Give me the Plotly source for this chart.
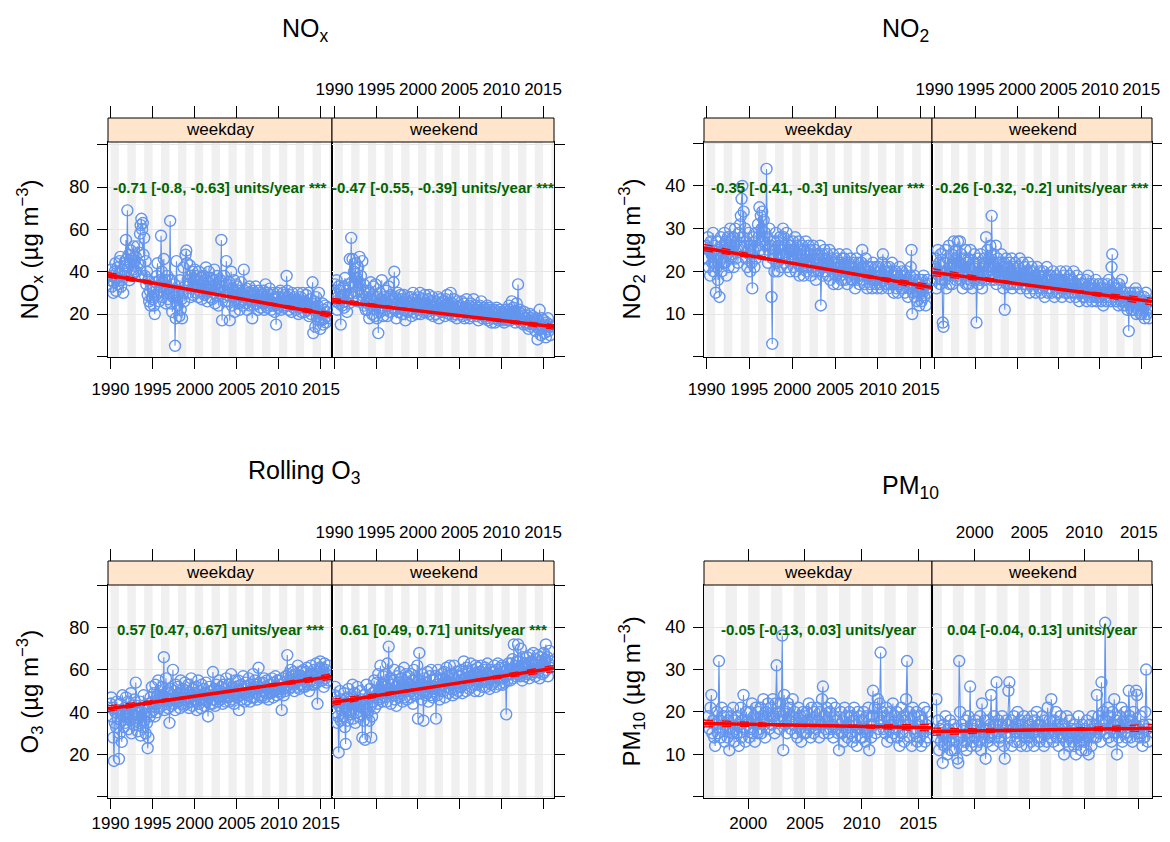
import numpy as np
import plotly.graph_objects as go

# monthly means (ug/m3), one row per year; NOx/NO2/O3 Jan 1990 - Dec 2015
nox_weekday = [
    36, 41, 33, 38, 30, 35, 40, 44, 31, 37, 42, 34,
    39, 45, 47, 33, 36, 41, 30, 38, 44, 43, 55, 46,
    69, 42, 48, 36, 44, 50, 38, 46, 41, 52, 45, 40,
    47, 40, 52, 44, 38, 49, 58, 62, 65, 60, 63, 48,
    56, 38, 45, 34, 40, 29, 36, 26, 31, 24, 33, 28,
    27, 32, 24, 20, 35, 29, 38, 44, 30, 26, 36, 33,
    57, 40, 28, 35, 46, 30, 36, 25, 32, 38, 27, 30,
    36, 64, 25, 36, 21, 28, 30, 34, 5, 18, 45, 29,
    24, 31, 19, 36, 22, 27, 18, 30, 42, 26, 33, 48,
    50, 44, 36, 30, 34, 43, 28, 38, 32, 40, 29, 36,
    41, 33, 38, 30, 36, 28, 40, 34, 31, 37, 27, 35,
    32, 38, 29, 36, 42, 30, 26, 35, 40, 31, 28, 37,
    33, 27, 36, 30, 41, 25, 34, 29, 38, 32, 24, 35,
    30, 36, 55, 17, 33, 28, 38, 31, 26, 45, 34, 29,
    26, 35, 17, 30, 40, 24, 32, 28, 36, 21, 30, 34,
    27, 33, 25, 31, 22, 29, 35, 26, 30, 24, 41, 31,
    28, 25, 32, 22, 30, 27, 33, 24, 29, 26, 18, 31,
    24, 30, 27, 33, 25, 29, 22, 31, 26, 28, 23, 30,
    29, 25, 31, 22, 28, 34, 26, 23, 30, 27, 24, 32,
    26, 22, 29, 24, 30, 27, 21, 28, 15, 25, 30, 23,
    28, 24, 31, 22, 27, 25, 30, 23, 26, 29, 24, 38,
    31, 26, 22, 29, 24, 27, 21, 30, 25, 23, 28, 26,
    22, 27, 24, 30, 20, 26, 23, 28, 21, 25, 30, 24,
    26, 21, 25, 29, 22, 24, 30, 19, 23, 27, 20, 25,
    35, 11, 22, 26, 14, 28, 19, 24, 17, 30, 21, 13,
    20, 17, 25, 15, 22, 18, 24, 16, 21, 19, 23, 18,
]
nox_weekend = [
    30, 34, 26, 36, 22, 28, 33, 25, 31, 15, 27, 24,
    29, 33, 23, 37, 26, 31, 21, 28, 34, 25, 46, 30,
    56, 35, 46, 28, 40, 33, 44, 30, 37, 26, 42, 35,
    47, 32, 38, 29, 45, 27, 34, 24, 30, 22, 28, 25,
    22, 31, 18, 27, 35, 24, 20, 29, 33, 26, 19, 34,
    24, 18, 28, 11, 25, 30, 21, 27, 36, 23, 19, 26,
    28, 22, 31, 25, 19, 27, 33, 24, 21, 29, 26, 23,
    27, 35, 40, 22, 28, 18, 25, 30, 21, 26, 24, 29,
    23, 27, 20, 25, 29, 22, 17, 26, 24, 21, 28, 25,
    26, 22, 28, 19, 24, 30, 21, 27, 23, 25, 20, 24,
    22, 28, 24, 30, 20, 26, 23, 27, 21, 25, 29, 22,
    25, 21, 27, 23, 29, 20, 24, 26, 22, 28, 19, 24,
    23, 26, 20, 25, 22, 28, 18, 24, 27, 21, 25, 22,
    26, 21, 24, 19, 27, 23, 29, 22, 25, 20, 24, 30,
    21, 25, 19, 23, 27, 20, 24, 22, 18, 26, 23, 21,
    24, 20, 23, 26, 19, 22, 25, 18, 23, 21, 27, 22,
    20, 24, 18, 22, 25, 19, 23, 21, 27, 20, 22, 24,
    22, 19, 23, 17, 21, 24, 20, 26, 22, 18, 21, 23,
    19, 22, 18, 21, 24, 17, 20, 23, 19, 22, 16, 21,
    21, 18, 22, 16, 20, 23, 18, 21, 17, 19, 22, 18,
    18, 21, 17, 20, 16, 19, 22, 18, 21, 17, 20, 24,
    22, 17, 20, 26, 19, 23, 18, 21, 16, 19, 25, 20,
    34, 21, 18, 22, 16, 20, 17, 19, 15, 21, 18, 16,
    18, 15, 19, 13, 17, 20, 14, 18, 16, 19, 15, 17,
    16, 12, 18, 14, 8, 17, 13, 22, 15, 10, 18, 13,
    14, 17, 11, 15, 9, 16, 13, 18, 12, 15, 10, 14,
]
no2_weekday = [
    26, 23, 28, 21, 25, 19, 27, 24, 22, 29, 20, 26,
    24, 15, 27, 21, 18, 25, 14, 23, 28, 20, 26, 22,
    25, 29, 22, 27, 19, 24, 28, 21, 26, 30, 23, 27,
    24, 28, 21, 26, 30, 23, 27, 25, 22, 29, 26, 31,
    33, 37, 40, 28, 34, 26, 30, 23, 27, 21, 25, 29,
    24, 20, 26, 22, 16, 25, 28, 21, 27, 23, 29, 26,
    31, 28, 35, 25, 33, 30, 34, 27, 32, 24, 29, 26,
    44, 28, 22, 25, 30, 24, 26, 14, 3, 23, 27, 20,
    25, 29, 22, 27, 20, 26, 24, 28, 21, 25, 23, 30,
    28, 22, 26, 24, 29, 21, 27, 23, 25, 20, 26, 24,
    23, 27, 21, 25, 28, 20, 24, 26, 22, 27, 19, 24,
    25, 21, 26, 23, 19, 25, 22, 27, 20, 24, 21, 26,
    22, 25, 19, 24, 21, 26, 20, 23, 25, 18, 22, 24,
    24, 20, 23, 26, 12, 21, 24, 19, 22, 25, 20, 23,
    21, 24, 19, 22, 25, 18, 21, 23, 20, 24, 17, 22,
    22, 19, 23, 20, 17, 22, 24, 19, 21, 18, 23, 20,
    20, 23, 18, 21, 24, 17, 20, 22, 19, 21, 23, 18,
    21, 18, 22, 19, 16, 21, 23, 18, 20, 22, 17, 20,
    19, 22, 25, 18, 21, 17, 20, 23, 19, 16, 21, 19,
    20, 17, 21, 19, 16, 22, 18, 20, 17, 21, 19, 16,
    18, 21, 17, 20, 19, 16, 22, 24, 18, 20, 17, 21,
    19, 17, 20, 16, 21, 18, 17, 20, 22, 18, 15, 19,
    17, 20, 16, 19, 15, 18, 21, 17, 19, 16, 20, 18,
    16, 19, 15, 18, 20, 17, 14, 18, 16, 19, 21, 25,
    10, 17, 15, 19, 14, 18, 16, 13, 17, 15, 12, 18,
    16, 13, 18, 15, 19, 14, 17, 12, 16, 18, 15, 17,
]
no2_weekend = [
    21, 18, 23, 16, 20, 25, 19, 22, 17, 24, 20, 18,
    8, 7, 22, 18, 25, 16, 20, 23, 19, 26, 17, 21,
    20, 24, 17, 22, 27, 19, 23, 18, 25, 21, 27, 19,
    22, 27, 18, 24, 20, 16, 23, 19, 21, 25, 17, 22,
    19, 23, 17, 21, 25, 18, 20, 16, 22, 19, 24, 18,
    21, 8, 19, 23, 17, 22, 18, 24, 20, 16, 21, 19,
    23, 18, 22, 28, 20, 25, 19, 23, 21, 26, 18, 33,
    22, 19, 24, 18, 21, 26, 17, 20, 23, 19, 22, 18,
    20, 24, 18, 21, 16, 22, 11, 19, 23, 17, 21, 19,
    18, 22, 17, 20, 23, 16, 19, 21, 17, 22, 18, 20,
    19, 17, 21, 18, 23, 16, 20, 18, 22, 17, 19, 21,
    17, 20, 16, 19, 22, 18, 15, 20, 17, 21, 18, 16,
    20, 17, 19, 15, 18, 21, 17, 19, 16, 20, 18, 15,
    18, 16, 20, 17, 14, 19, 17, 21, 15, 18, 16, 19,
    16, 19, 15, 18, 20, 17, 14, 18, 16, 19, 15, 17,
    18, 15, 17, 20, 16, 14, 18, 16, 19, 15, 17, 20,
    16, 18, 15, 17, 19, 14, 17, 15, 18, 16, 20, 15,
    17, 14, 16, 19, 15, 17, 13, 16, 18, 15, 17, 14,
    15, 17, 14, 16, 18, 13, 16, 19, 15, 17, 14, 16,
    16, 13, 15, 17, 14, 16, 18, 13, 15, 14, 17, 15,
    14, 16, 13, 15, 17, 12, 15, 14, 16, 13, 15, 17,
    15, 18, 14, 16, 13, 21, 24, 15, 17, 14, 16, 13,
    16, 13, 15, 12, 17, 14, 16, 13, 18, 15, 12, 14,
    13, 15, 12, 14, 11, 13, 6, 15, 12, 14, 11, 13,
    14, 11, 15, 12, 16, 10, 13, 15, 11, 14, 12, 10,
    12, 10, 13, 11, 14, 9, 12, 15, 10, 11, 13, 9,
]
o3_weekday = [
    44, 47, 38, 42, 28, 17, 35, 40, 33, 45, 37, 41,
    18, 30, 44, 36, 26, 48, 39, 33, 42, 35, 47, 40,
    38, 45, 32, 41, 36, 49, 30, 43, 37, 34, 46, 40,
    54, 37, 43, 31, 40, 35, 45, 29, 38, 42, 33, 48,
    36, 42, 30, 39, 35, 23, 28, 44, 38, 47, 40, 52,
    45, 41, 49, 38, 53, 44, 40, 48, 55, 42, 46, 50,
    48, 43, 52, 45, 66, 41, 47, 56, 44, 50, 42, 49,
    35, 46, 51, 43, 48, 60, 44, 50, 41, 53, 47, 45,
    52, 45, 49, 42, 55, 47, 44, 51, 43, 48, 54, 46,
    44, 50, 47, 53, 42, 49, 45, 56, 48, 43, 51, 46,
    49, 45, 52, 41, 48, 55, 44, 50, 46, 42, 53, 47,
    46, 51, 43, 49, 54, 45, 48, 38, 47, 52, 44, 50,
    48, 44, 59, 46, 51, 43, 49, 53, 45, 50, 47, 55,
    50, 46, 52, 48, 44, 53, 47, 51, 45, 56, 49, 47,
    47, 53, 45, 50, 58, 46, 52, 48, 44, 51, 55, 49,
    52, 47, 55, 41, 50, 48, 53, 46, 51, 57, 49, 45,
    49, 54, 46, 52, 48, 56, 50, 45, 53, 47, 51, 58,
    51, 47, 55, 49, 53, 46, 52, 61, 48, 54, 50, 47,
    48, 54, 50, 56, 47, 52, 49, 55, 51, 46, 53, 49,
    53, 49, 56, 51, 47, 54, 50, 57, 52, 48, 55, 51,
    50, 55, 49, 53, 41, 56, 51, 48, 54, 50, 57, 52,
    67, 53, 58, 51, 56, 60, 52, 57, 54, 59, 50, 55,
    54, 58, 52, 62, 55, 51, 57, 53, 59, 56, 52, 60,
    56, 52, 59, 54, 61, 53, 57, 50, 58, 55, 62, 53,
    58, 55, 60, 53, 57, 63, 54, 44, 59, 56, 61, 64,
    57, 61, 55, 59, 52, 63, 56, 60, 54, 58, 62, 55,
]
o3_weekend = [
    48, 52, 40, 45, 35, 38, 21, 43, 50, 36, 46, 41,
    44, 38, 49, 33, 25, 42, 47, 36, 51, 40, 45, 39,
    47, 41, 53, 37, 44, 49, 35, 46, 40, 52, 43, 38,
    45, 50, 39, 46, 28, 42, 36, 48, 27, 41, 53, 44,
    40, 47, 36, 51, 43, 28, 38, 49, 45, 55, 42, 50,
    48, 54, 44, 58, 46, 51, 62, 47, 53, 45, 57, 49,
    52, 47, 58, 45, 63, 51, 71, 49, 56, 44, 53, 50,
    55, 48, 60, 46, 52, 43, 57, 50, 54, 47, 59, 51,
    49, 56, 45, 53, 61, 47, 52, 58, 46, 54, 50, 57,
    53, 47, 58, 50, 55, 44, 60, 51, 48, 56, 52, 62,
    37, 55, 68, 49, 53, 46, 58, 50, 36, 56, 52, 48,
    54, 49, 59, 45, 52, 57, 48, 60, 51, 47, 55, 50,
    51, 57, 37, 53, 48, 60, 52, 46, 56, 50, 58, 53,
    56, 50, 59, 47, 55, 61, 52, 57, 49, 54, 62, 51,
    53, 58, 48, 56, 62, 51, 55, 49, 59, 54, 50, 57,
    57, 52, 60, 55, 49, 58, 64, 53, 56, 50, 61, 55,
    54, 59, 51, 57, 63, 52, 56, 60, 53, 58, 50, 62,
    58, 53, 61, 56, 50, 59, 55, 62, 57, 52, 60, 56,
    55, 61, 52, 58, 63, 54, 57, 51, 60, 56, 53, 59,
    59, 54, 62, 57, 52, 60, 56, 63, 58, 53, 61, 57,
    56, 62, 53, 59, 54, 61, 57, 39, 60, 55, 63, 58,
    60, 55, 63, 58, 65, 56, 72, 59, 62, 57, 64, 60,
    72, 58, 64, 57, 70, 61, 55, 66, 59, 63, 57, 62,
    61, 66, 58, 63, 56, 67, 60, 64, 58, 62, 68, 59,
    63, 57, 65, 60, 67, 59, 62, 56, 66, 61, 64, 58,
    62, 68, 59, 65, 72, 60, 66, 57, 63, 69, 61, 64,
]
# PM10 Jul 1996 - Dec 2015
pm10_weekday = [
    19, 16, 21, 24, 15, 18,
    14, 12, 17, 20, 15, 32, 18, 14, 21, 16, 19, 13,
    17, 20, 14, 18, 11, 16, 19, 15, 21, 13, 18, 16,
    15, 19, 12, 17, 21, 14, 18, 24, 16, 13, 20, 17,
    18, 14, 20, 16, 22, 15, 19, 13, 21, 17, 15, 20,
    16, 21, 15, 19, 23, 17, 14, 20, 18, 22, 16, 19,
    21, 17, 23, 19, 15, 22, 31, 18, 20, 16, 22, 19,
    38, 11, 24, 17, 20, 15, 22, 18, 21, 16, 19, 23,
    17, 20, 15, 18, 14, 21, 16, 19, 13, 18, 20, 15,
    19, 15, 20, 17, 22, 16, 14, 21, 18, 15, 20, 17,
    16, 21, 18, 14, 20, 17, 23, 26, 15, 19, 16, 21,
    18, 15, 20, 16, 22, 17, 14, 19, 21, 16, 18, 15,
    11, 17, 20, 15, 18, 13, 21, 16, 19, 14, 17, 20,
    15, 19, 13, 18, 21, 14, 17, 12, 20, 16, 19, 14,
    18, 14, 20, 16, 13, 19, 15, 21, 11, 17, 14, 19,
    25, 17, 21, 15, 19, 23, 16, 22, 34, 18, 20, 16,
    19, 15, 21, 13, 18, 16, 20, 14, 17, 22, 15, 19,
    16, 20, 14, 18, 12, 17, 21, 15, 19, 13, 18, 23,
    32, 17, 20, 14, 18, 12, 21, 16, 19, 15, 20, 13,
    17, 14, 19, 12, 18, 15, 21, 13, 17, 20, 14, 16,
]
pm10_weekend = [
    23, 14, 18, 11, 16, 13,
    15, 8, 17, 12, 19, 14, 10, 16, 13, 18, 11, 15,
    14, 17, 11, 16, 13, 9, 8, 32, 20, 14, 17, 12,
    16, 13, 18, 11, 15, 19, 14, 26, 12, 17, 13, 16,
    14, 18, 12, 17, 15, 13, 19, 11, 22, 16, 14, 18,
    9, 16, 13, 18, 14, 17, 24, 15, 12, 19, 14, 17,
    27, 15, 18, 13, 17, 14, 19, 16, 12, 9, 15, 18,
    17, 25, 27, 14, 18, 12, 16, 19, 13, 17, 15, 20,
    16, 13, 18, 12, 17, 15, 19, 14, 16, 12, 18, 15,
    14, 17, 13, 19, 15, 12, 18, 16, 20, 14, 17, 13,
    17, 14, 19, 15, 12, 18, 16, 13, 21, 15, 18, 14,
    23, 16, 13, 18, 15, 20, 14, 17, 12, 16, 19, 15,
    14, 17, 10, 16, 13, 19, 15, 12, 18, 14, 16, 13,
    15, 12, 17, 10, 16, 14, 19, 13, 15, 11, 17, 14,
    13, 16, 11, 18, 14, 10, 17, 15, 12, 19, 14, 16,
    17, 14, 24, 16, 19, 15, 13, 27, 18, 20, 16, 41,
    18, 15, 21, 14, 19, 16, 13, 20, 17, 23, 15, 18,
    10, 17, 14, 19, 16, 21, 13, 18, 15, 20, 14, 17,
    18, 25, 19, 14, 18, 13, 20, 17, 16, 25, 24, 15,
    16, 14, 19, 15, 12, 17, 14, 20, 30, 16, 13, 17,
]

# Theil-Sen trend: value at left / right panel edge
trend_left = [38.5, 26.3, 25.5, 19.8, 41.7, 44.6, 17.3, 15.4]
trend_right = [19.5, 14.0, 16.2, 12.9, 56.9, 60.8, 16.3, 16.2]
slope_lo = [-0.8, -0.55, -0.41, -0.32, 0.47, 0.49, -0.13, -0.04]
slope_hi = [-0.63, -0.39, -0.3, -0.2, 0.67, 0.71, 0.03, 0.13]
trend_text = [
    "-0.71 [-0.8, -0.63] units/year ***", "-0.47 [-0.55, -0.39] units/year ***",
    "-0.35 [-0.41, -0.3] units/year ***", "-0.26 [-0.32, -0.2] units/year ***",
    "0.57 [0.47, 0.67] units/year ***", "0.61 [0.49, 0.71] units/year ***",
    "-0.05 [-0.13, 0.03] units/year", "0.04 [-0.04, 0.13] units/year",
]
strip_labels = ["weekday", "weekend"]

# the page body adds an 8px margin all round; keep the figure inside it
OFF = 8
W, H = 1170 - 2 * OFF, 842 - 2 * OFF
FONT = "Liberation Sans, Arial, sans-serif"
BLUE = "#6495ED"


def fx(px):
    return (px - OFF) / W


def fy(py):
    return 1 - (py - OFF) / H


cols = [(108, 332, 554), (704, 932, 1152)]
rows = [(118, 142, 357), (561, 585, 798)]
label_standoff = [6, 0]
bottom_ticklen = [11, 10]

panels = [
    dict(row=0, col=0, title="NO<sub>x</sub>", tpos=(305, 30),
         ytitle="NO<sub>x</sub> (µg m<sup>−3</sup>)",
         series=(nox_weekday, nox_weekend), start=1990.0,
         xr=(1989.7, 2016.31), yr=(-0.3, 101.3), yticks=list(range(0, 101, 20)),
         xticks=list(range(1990, 2016, 5))),
    dict(row=0, col=1, title="NO<sub>2</sub>", tpos=(905, 30),
         ytitle="NO<sub>2</sub> (µg m<sup>−3</sup>)",
         series=(no2_weekday, no2_weekend), start=1990.0,
         xr=(1989.7, 2016.31), yr=(-0.07, 50.3), yticks=list(range(0, 51, 10)),
         xticks=list(range(1990, 2016, 5))),
    dict(row=1, col=0, title="Rolling O<sub>3</sub>", tpos=(304, 472),
         ytitle="O<sub>3</sub> (µg m<sup>−3</sup>)",
         series=(o3_weekday, o3_weekend), start=1990.0,
         xr=(1989.7, 2016.31), yr=(-0.5, 100.1), yticks=list(range(0, 101, 20)),
         xticks=list(range(1990, 2016, 5))),
    dict(row=1, col=1, title="PM<sub>10</sub>", tpos=(910, 487),
         ytitle="PM<sub>10</sub> (µg m<sup>−3</sup>)",
         series=(pm10_weekday, pm10_weekend), start=1996.5,
         xr=(1996.1, 2016.2), yr=(-0.25, 49.9), yticks=list(range(0, 51, 10)),
         xticks=list(range(2000, 2016, 5))),
]

fig = go.Figure()
layout = {}
shapes = []
annotations = []

for p_i, p in enumerate(panels):
    strip_top, plot_top, plot_bot = rows[p["row"]]
    c_left, c_mid, c_right = cols[p["col"]]
    edges = [(c_left, c_mid), (c_mid, c_right)]
    ylab = ["" if (v == p["yticks"][0] or v == p["yticks"][-1]) else str(v) for v in p["yticks"]]

    for s in range(2):
        k = p_i * 2 + s
        n = k + 1
        xid = "x" if n == 1 else f"x{n}"
        yid = "y" if n == 1 else f"y{n}"
        top_n = n + 8
        dom = [fx(edges[s][0]), fx(edges[s][1])]
        ydom = [fy(plot_bot), fy(plot_top)]
        x0r, x1r = p["xr"]

        vals = p["series"][s]
        t = p["start"] + np.arange(len(vals)) / 12.0

        fig.add_trace(go.Scatter(
            x=t, y=vals, mode="lines+markers", xaxis=xid, yaxis=yid,
            line=dict(color=BLUE, width=1.1),
            marker=dict(symbol="circle-open", size=11, color=BLUE, line=dict(width=1.4)),
            showlegend=False, hoverinfo="skip"))

        # trend line and confidence slopes
        yl, yrr = trend_left[k], trend_right[k]
        ym = (yl + yrr) / 2
        half = (x1r - x0r) / 2
        for sl in (slope_lo[k], slope_hi[k]):
            fig.add_trace(go.Scatter(
                x=[x0r, x1r], y=[ym - sl * half, ym + sl * half], mode="lines",
                xaxis=xid, yaxis=yid, line=dict(color="red", width=1.3, dash="dash"),
                showlegend=False, hoverinfo="skip"))
        fig.add_trace(go.Scatter(
            x=[x0r, x1r], y=[yl, yrr], mode="lines", xaxis=xid, yaxis=yid,
            line=dict(color="red", width=3.5), showlegend=False, hoverinfo="skip"))

        # dummy for the top axis
        fig.add_trace(go.Scatter(
            x=[x0r], y=[p["yr"][0]], mode="markers", xaxis=f"x{top_n}", yaxis=yid,
            marker=dict(opacity=0), showlegend=False, hoverinfo="skip"))

        layout[f"xaxis{n}" if n > 1 else "xaxis"] = dict(
            domain=dom, anchor=yid, range=list(p["xr"]), automargin=False,
            tickvals=p["xticks"], ticktext=[str(v) for v in p["xticks"]],
            showticklabels=(s == 0), ticks="outside", ticklen=bottom_ticklen[p["row"]],
            tickcolor="black",
            showline=True, mirror=True, linecolor="black", linewidth=1,
            showgrid=False, zeroline=False, ticklabelstandoff=label_standoff[p["row"]],
            ticklabeloverflow="allow",
            tickfont=dict(family=FONT, size=17, color="black"))
        layout[f"xaxis{top_n}"] = dict(
            domain=dom, overlaying=xid, side="top", anchor="free", position=fy(strip_top),
            range=list(p["xr"]), automargin=False,
            tickvals=p["xticks"], ticktext=[str(v) for v in p["xticks"]],
            showticklabels=(s == 1), ticks="outside", ticklen=12, tickcolor="black",
            showline=False, showgrid=False, zeroline=False, ticklabelstandoff=4,
            ticklabeloverflow="allow",
            tickfont=dict(family=FONT, size=17, color="black"))
        layout[f"yaxis{n}" if n > 1 else "yaxis"] = dict(
            domain=ydom, anchor=xid, range=list(p["yr"]), side="left" if s == 0 else "right",
            automargin=False,
            tickvals=p["yticks"], ticktext=ylab, showticklabels=(s == 0),
            ticks="outside", ticklen=10, tickcolor="black",
            showline=True, mirror=True, linecolor="black", linewidth=1,
            showgrid=True, gridcolor="#E6E6E6", gridwidth=1, zeroline=False,
            ticklabelstandoff=4, tickfont=dict(family=FONT, size=18, color="black"))

        # alternate-year shading
        for yr in range(int(np.floor(x0r)), int(np.ceil(x1r))):
            if yr % 2 == 0:
                shapes.append(dict(
                    type="rect", xref=xid, yref=f"{yid} domain",
                    x0=max(yr, x0r), x1=min(yr + 1, x1r), y0=0, y1=1,
                    fillcolor="#F0F0F0", line=dict(width=0), layer="below"))

        # strip
        shapes.append(dict(
            type="rect", xref="paper", yref="paper", x0=dom[0], x1=dom[1],
            y0=fy(plot_top), y1=fy(strip_top), fillcolor="#FFE5CC",
            line=dict(color="black", width=1)))
        annotations.append(dict(
            text=strip_labels[s], xref="paper", yref="paper",
            x=(dom[0] + dom[1]) / 2, y=(fy(plot_top) + fy(strip_top)) / 2,
            xanchor="center", yanchor="middle",
            showarrow=False, font=dict(family=FONT, size=17, color="black")))

        annotations.append(dict(
            text=f"<b>{trend_text[k]}</b>", xref=f"{xid} domain", yref=f"{yid} domain",
            x=0.5, y=0.79, xanchor="center", yanchor="middle", showarrow=False,
            font=dict(family=FONT, size=15, color="#006400")))

    # titles
    annotations.append(dict(
        text=p["title"], xref="paper", yref="paper", x=fx(p["tpos"][0]), y=fy(p["tpos"][1]),
        xanchor="center", yanchor="middle",
        showarrow=False, font=dict(family=FONT, size=25, color="black")))
    annotations.append(dict(
        text=p["ytitle"], xref="paper", yref="paper", textangle=-90,
        x=fx(29 if p["col"] == 0 else 631), y=fy((plot_top + plot_bot) / 2),
        xanchor="center", yanchor="middle",
        showarrow=False, font=dict(family=FONT, size=24, color="black")))

fig.update_layout(
    width=W, height=H, margin=dict(l=0, r=0, t=0, b=0, pad=0),
    plot_bgcolor="white", paper_bgcolor="white",
    shapes=shapes, annotations=annotations, showlegend=False, **layout)

fig.write_html("out.html")
